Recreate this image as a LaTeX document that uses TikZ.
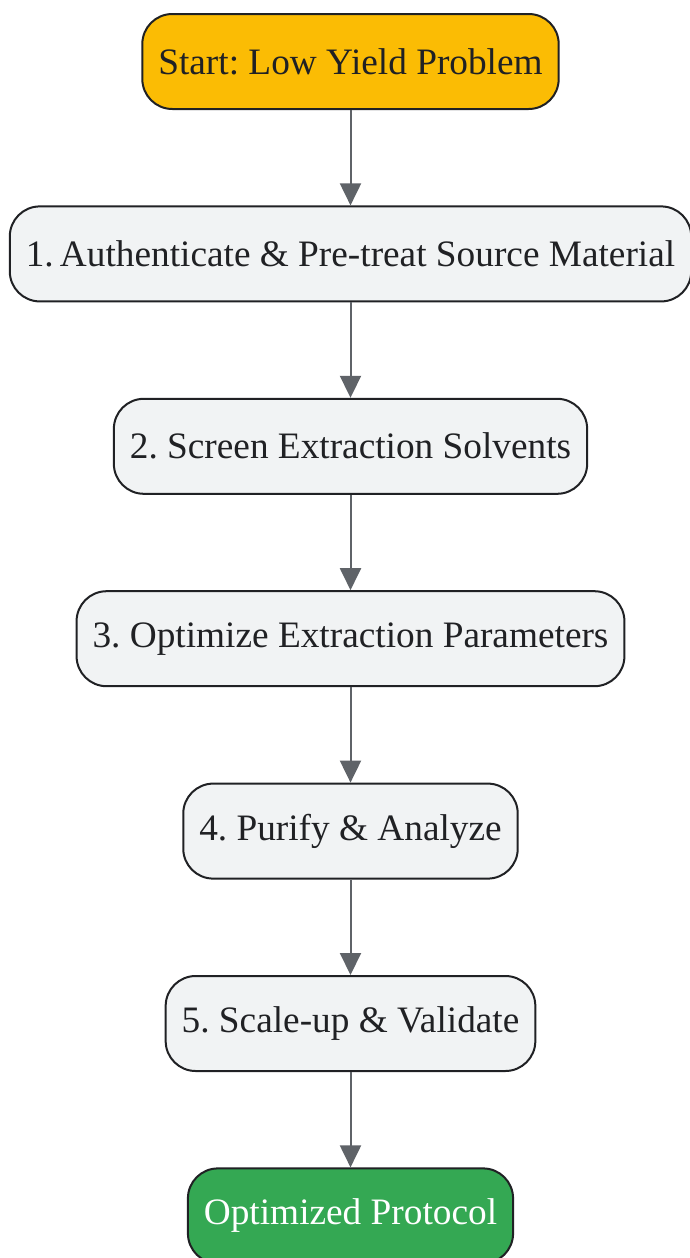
\documentclass[tikz,border=0pt]{standalone}
\usepackage{fontspec}
\setmainfont{Liberation Serif}
\usetikzlibrary{positioning,arrows.meta}

\definecolor{startyellow}{HTML}{FBBC04}
\definecolor{endgreen}{HTML}{34A853}
\definecolor{stepgray}{HTML}{F1F3F4}
\definecolor{edgegray}{HTML}{5F6368}
\definecolor{inkdark}{HTML}{202124}

\tikzset{
  box/.style={draw=inkdark, line width=2pt, rounded corners=30pt,
    minimum height=95pt, inner xsep=16pt, text=inkdark,
    font=\fontsize{37.3}{42}\selectfont},
  stepbox/.style={box, fill=stepgray},
  flow/.style={draw=edgegray, line width=2pt,
    -{Triangle[length=22pt,width=21pt]}}
}

\begin{document}
\frenchspacing
\begin{tikzpicture}[x=1pt,y=1pt,node distance=95.4pt]

%画布大小与参考图一致
\useasboundingbox (0,0) rectangle (690,-1258);

%起点和终点
\node[box, fill=startyellow] (start) at (350.5,-61.5) {Start: Low Yield Problem};
%五个步骤
\node[stepbox, below=of start] (auth) {1.\,Authenticate \& Pre-treat Source Material};
\node[stepbox, below=of auth] (screen) {2. Screen Extraction Solvents};
\node[stepbox, below=of screen] (optim) {3. Optimize Extraction Parameters};
\node[stepbox, below=of optim] (purify) {4. Purify \& Analyze};
\node[stepbox, below=of purify] (scale) {5. Scale-up \& Validate};
\node[box, fill=endgreen, text=white, below=of scale] (protocol) {Optimized Protocol};

%箭头
\foreach \a/\b in {start/auth, auth/screen, screen/optim, optim/purify, purify/scale, scale/protocol}
  \draw[flow] (\a) -- (\b);

\end{tikzpicture}
\end{document}
